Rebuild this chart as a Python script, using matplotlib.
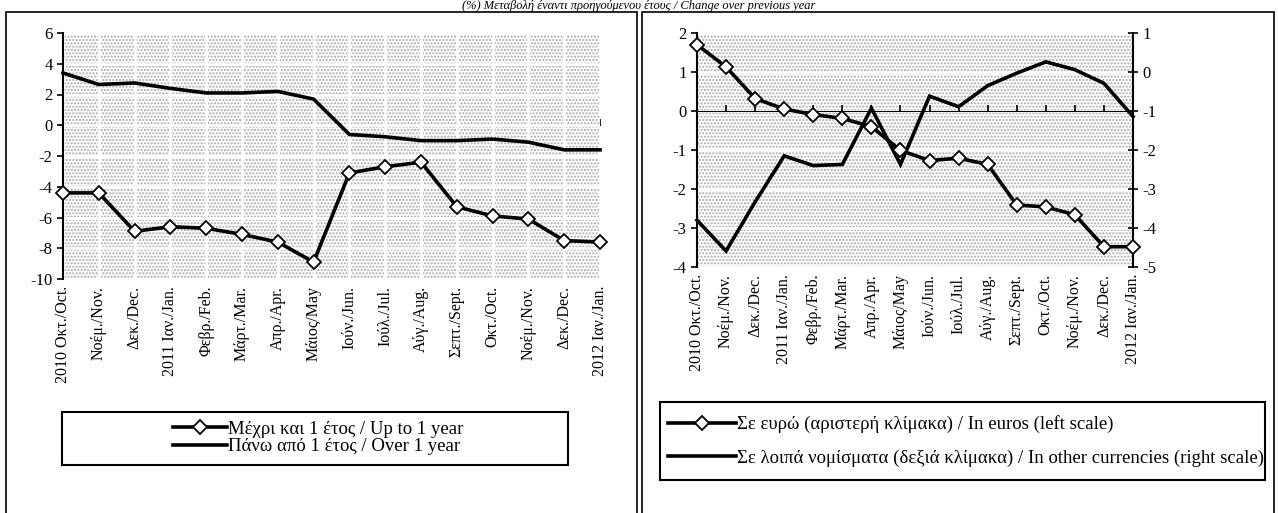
import numpy as np
import matplotlib
matplotlib.use("Agg")
import matplotlib.pyplot as plt
from matplotlib.lines import Line2D
from matplotlib.patches import Rectangle

plt.rcParams['font.family'] = ['Liberation Serif', 'DejaVu Serif']
plt.rcParams['hatch.linewidth'] = 1.0
plt.rcParams['axes.unicode_minus'] = False

# Κατηγορίες (μήνες)
months = ["2010 Οκτ./Oct.", "Νοέμ./Nov.", "Δεκ./Dec.", "2011 Ιαν./Jan.", "Φεβρ./Feb.",
          "Μάρτ./Mar.", "Απρ./Apr.", "Μάιος/May", "Ιούν./Jun.", "Ιούλ./Jul.",
          "Αύγ./Aug.", "Σεπτ./Sept.", "Οκτ./Oct.", "Νοέμ./Nov.", "Δεκ./Dec.",
          "2012 Ιαν./Jan."]

# Αριστερό διάγραμμα
up_to_1y = [-4.4, -4.4, -6.9, -6.6, -6.7, -7.1, -7.6, -8.9,
            -3.1, -2.7, -2.4, -5.3, -5.9, -6.1, -7.5, -7.6]
over_1y = [3.4, 2.65, 2.75, 2.4, 2.1, 2.1, 2.2, 1.7,
           -0.6, -0.75, -1.0, -1.0, -0.9, -1.1, -1.6, -1.6]

# Δεξί διάγραμμα
in_euros = [1.7, 1.13, 0.32, 0.05, -0.09, -0.19, -0.4, -1.01,
            -1.27, -1.21, -1.37, -2.41, -2.46, -2.66, -3.48, -3.48]
other_ccy = [-3.8, -4.59, -3.33, -2.15, -2.4, -2.37, -0.93, -2.37,
             -0.62, -0.89, -0.35, -0.03, 0.26, 0.06, -0.29, -1.14]

W, H = 1278, 513
fig = plt.figure(figsize=(W / 100, H / 100), dpi=100)


def box(x0, y0, x1, y1):
    # pixel box -> figure coords
    return [x0 / W, 1 - y1 / H, (x1 - x0) / W, (y1 - y0) / H]


def frame(x0, y0, x1, y1, lw=1.2):
    fig.add_artist(Rectangle((x0 / W, 1 - y1 / H), (x1 - x0) / W, (y1 - y0) / H,
                             transform=fig.transFigure, fill=False,
                             edgecolor='black', lw=lw))


def background(ax):
    ax.add_patch(Rectangle((0, 0), 1, 1, transform=ax.transAxes, facecolor='white',
                           edgecolor='#a8a8a8', hatch='.....', lw=0, zorder=0))
    ax.set_axisbelow(True)
    ax.grid(True, color='white', lw=2.0, zorder=0.5)


x = np.arange(len(months))
line_kw = dict(color='black', lw=2.6, solid_joinstyle='miter')
mark_kw = dict(marker='D', markersize=7, markerfacecolor='white',
               markeredgecolor='black', markeredgewidth=1.3)
tick_fs = 11.5
leg_fs = 13.5

# ---- left ----
ax1 = fig.add_axes(box(63, 33, 600, 279))
background(ax1)
ax1.plot(x, over_1y, zorder=3, clip_on=False, **line_kw)
ax1.plot(x, up_to_1y, zorder=4, clip_on=False, **line_kw, **mark_kw)
ax1.set_xlim(0, 15)
ax1.set_ylim(-10, 6)
ax1.set_yticks(range(-10, 7, 2))
ax1.set_xticks(x)
ax1.set_xticklabels(months, rotation=90, fontsize=tick_fs)
ax1.tick_params(axis='x', length=0, pad=5)
ax1.tick_params(axis='y', length=4, width=1.2, labelsize=12, direction='out')
for s in ['top', 'right', 'bottom']:
    ax1.spines[s].set_visible(False)
ax1.spines['left'].set_linewidth(1.5)
zero1 = ax1.secondary_xaxis(10 / 16)
zero1.set_xticks(x)
zero1.tick_params(length=4, width=1.2, labelbottom=False, labeltop=False, direction='out')
zero1.spines['bottom'].set_linewidth(1.5)

frame(62, 412, 568, 465, lw=1.5)
h1 = [Line2D([], [], **line_kw, **mark_kw), Line2D([], [], **line_kw)]
fig.legend(h1, ["Μέχρι και 1 έτος / Up to 1 year", "Πάνω από 1 έτος / Over 1 year"],
           loc='center', bbox_to_anchor=(318 / W, 1 - 438 / H), fontsize=leg_fs,
           frameon=False, handlelength=2.9, labelspacing=0.0, borderpad=0.2,
           handletextpad=0.05)

# ---- right ----
ax2 = fig.add_axes(box(697, 33, 1133, 267))
ax3 = ax2.twinx()
# background on the lower (right-scale) axes, euro series on top
background(ax3)
ax2.set_zorder(ax3.get_zorder() + 1)
ax2.patch.set_visible(False)

ax3.plot(x, other_ccy, zorder=3, clip_on=False, **line_kw)
ax3.set_ylim(-5, 1)
ax3.set_yticks(range(-5, 2))
ax3.tick_params(axis='y', length=7, width=1.2, labelsize=12, direction='inout')
for s in ['top', 'left', 'bottom']:
    ax3.spines[s].set_visible(False)
ax3.spines['right'].set_linewidth(1.5)

ax2.plot(x, in_euros, zorder=4, clip_on=False, **line_kw, **mark_kw)
ax2.set_xlim(0, 15)
ax2.set_ylim(-4, 2)
ax2.set_yticks(range(-4, 3))
ax2.set_xticks(x)
ax2.set_xticklabels(months, rotation=90, fontsize=tick_fs)
ax2.tick_params(axis='x', length=0, pad=5)
ax2.tick_params(axis='y', length=4, width=1.2, labelsize=12, direction='out')
for s in ['top', 'right', 'bottom']:
    ax2.spines[s].set_visible(False)
ax2.spines['left'].set_linewidth(1.5)
zero2 = ax2.secondary_xaxis(4 / 6)
zero2.set_xticks(x)
zero2.tick_params(length=4, width=1.2, labelbottom=False, labeltop=False, direction='out')
zero2.spines['bottom'].set_linewidth(1.5)
ax3.set_xlim(0, 15)

frame(660, 402, 1265, 480, lw=1.5)
h2 = [Line2D([], [], **line_kw, **mark_kw), Line2D([], [], **line_kw)]
fig.legend(h2, ["Σε ευρώ (αριστερή κλίμακα) / In euros (left scale)",
                "Σε λοιπά νομίσματα (δεξιά κλίμακα) / In other currencies (right scale)"],
           loc='center left', bbox_to_anchor=(655 / W, 1 - 441 / H), fontsize=leg_fs,
           frameon=False, handlelength=3.6, labelspacing=0.85, borderpad=0.2,
           handletextpad=0.05)

# outer frames and title
frame(6, 12, 637, 520)
frame(642, 12, 1274, 520)
fig.text(0.5, 1 - 9 / H, "(%) Μεταβολή έναντι προηγούμενου έτους / Change over previous year",
         ha='center', va='baseline', fontsize=9, style='italic')

fig.savefig("out.png", dpi=100)
